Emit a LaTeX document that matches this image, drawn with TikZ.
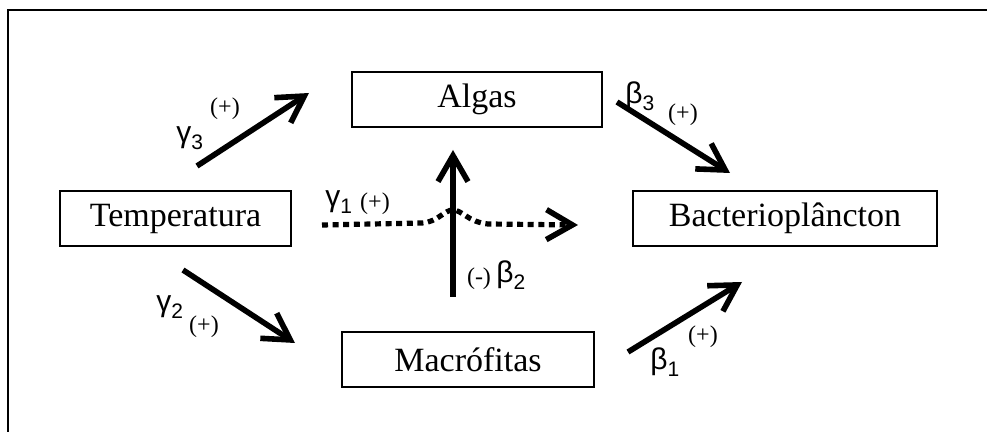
\documentclass[tikz,border=0pt]{standalone}
\usepackage{fontspec}
\setmainfont{Liberation Serif}
\newfontfamily\grkfont{Liberation Sans}
\usetikzlibrary{arrows.meta}

\tikzset{
  caixa/.style={draw, line width=0.9pt, inner sep=0pt, minimum height=27.5pt,
    font=\fontsize{17}{20}\selectfont},
  seta/.style={line width=2.8pt, -{Straight Barb[length=13pt,width=15pt]}},
  pontilhada/.style={line width=2.6pt, dash pattern=on 3pt off 2.3pt,
    -{Straight Barb[length=13pt,width=15pt,line width=2.8pt]}},
  sinal/.style={font=\fontsize{12}{14}\selectfont, inner sep=0pt},
  coef/.style={font=\grkfont\fontsize{15}{17}\selectfont, inner sep=0pt, anchor=west},
}
\newcommand{\coefsub}[2]{#1\raisebox{-3.5pt}{\fontsize{10.5}{12}\selectfont #2}}

\begin{document}
\begin{tikzpicture}[x=0.5pt,y=-0.5pt]
\useasboundingbox (0,0) rectangle (987,432);
\draw[line width=1pt] (8,432) -- (8,10) -- (987,10);

\begin{scope}[every node/.style={caixa}]
    \node[minimum width=125pt] (algas) at (477,99.5) {Algas};
    \node[minimum width=115.5pt] (temp) at (175.5,218.5) {Temperatura};
    \node[minimum width=152pt] (bact) at (785,218.5) {Bacterioplâncton};
    \node[minimum width=126pt] (macro) at (468,359.5) {Macrófitas};
\end{scope}

% ends of the arrows
\coordinate (g3a) at (197,166);
\coordinate (g3b) at (309,93);
\coordinate (b3a) at (617,102);
\coordinate (b3b) at (730,173);
\coordinate (g2a) at (183,270);
\coordinate (g2b) at (295,343);
\coordinate (b1a) at (628,352);
\coordinate (b1b) at (742,282);
\coordinate (b2a) at (453,297);
\coordinate (b2b) at (453,150);
\coordinate (g1a) at (322,225);
\coordinate (g1b) at (578,225);

\begin{scope}[style={seta}]
    \path (g3a) edge (g3b);
    \path (b3a) edge (b3b);
    \path (g2a) edge (g2b);
    \path (b1a) edge (b1b);
    \path (b2a) edge (b2b);
\end{scope}

\draw[pontilhada] (g1a) -- (422,223) .. controls (438,222) and (444,210) .. (453,210)
    .. controls (462,210) and (468,222) .. (488,224) -- (g1b);

\begin{scope}[every node/.style={coef}]
    \node (lg3) at (176,138) {\coefsub{γ}{3}};
    \node (lb3) at (625,96) {\coefsub{β}{3}};
    \node (lg2) at (156,307) {\coefsub{γ}{2}};
    \node (lb1) at (650,362) {\coefsub{β}{1}};
    \node (lg1) at (325,202) {\coefsub{γ}{1}};
    \node (lb2) at (496,275) {\coefsub{β}{2}};
\end{scope}

\begin{scope}[every node/.style={sinal}]
    \node (sg3) at (225,109) {(+)};
    \node (sb3) at (683,115) {(+)};
    \node (sg2) at (204,327) {(+)};
    \node (sb1) at (703,337) {(+)};
    \node (sg1) at (375,204) {(+)};
    \node (sb2) at (479,279) {(-)};
\end{scope}

\end{tikzpicture}
\end{document}
